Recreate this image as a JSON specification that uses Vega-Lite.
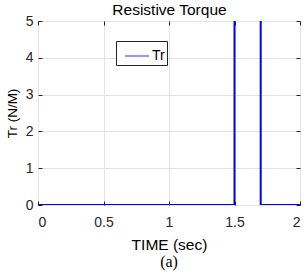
{
  "$schema": "https://vega.github.io/schema/vega-lite/v6.json",
  "width": 262,
  "height": 184,
  "autosize": {"type": "none"},
  "padding": {"left": 38, "top": 21, "right": 8, "bottom": 71},
  "background": "white",
  "title": {"text": "(a)", "orient": "bottom", "font": "Liberation Serif", "fontSize": 16, "fontWeight": "normal", "color": "black", "offset": 1},
  "config": {
    "view": {"stroke": "#262626", "strokeWidth": 1},
    "axis": {
      "labelFont": "Liberation Sans",
      "labelFontSize": 14,
      "labelColor": "#262626",
      "titleFont": "Liberation Sans",
      "titleFontSize": 15.5,
      "titleFontWeight": "normal",
      "titleColor": "black",
      "domain": false,
      "tickColor": "#262626",
      "tickSize": -4,
      "gridColor": "#e3e3e3",
      "gridOpacity": 1
    }
  },
  "data": {
    "values": [
      {"i": 0, "t": 0, "Tr": 0, "series": "Tr"},
      {"i": 1, "t": 1.5, "Tr": 0, "series": "Tr"},
      {"i": 2, "t": 1.5, "Tr": 6, "series": "Tr"},
      {"i": 3, "t": 1.7, "Tr": 6, "series": "Tr"},
      {"i": 4, "t": 1.7, "Tr": 0, "series": "Tr"},
      {"i": 5, "t": 2, "Tr": 0, "series": "Tr"}
    ]
  },
  "layer": [
    {
      "mark": {"type": "line", "clip": true, "opacity": 0},
      "encoding": {
        "x": {"field": "t", "type": "quantitative", "scale": {"domain": [0, 2], "nice": false},
              "axis": {"orient": "top", "values": [0, 0.5, 1, 1.5, 2], "labels": false, "grid": false, "title": "Resistive Torque", "titlePadding": 3}},
        "y": {"field": "Tr", "type": "quantitative", "scale": {"domain": [0, 5], "nice": false},
              "axis": {"orient": "right", "values": [0, 1, 2, 3, 4, 5], "labels": false, "grid": false, "title": null}},
        "order": {"field": "i"}
      }
    },
    {
      "mark": {"type": "line", "clip": true, "strokeWidth": 2},
      "encoding": {
        "x": {"field": "t", "type": "quantitative", "scale": {"domain": [0, 2], "nice": false},
              "axis": {"orient": "bottom", "values": [0, 0.5, 1, 1.5, 2], "format": "~g", "title": "TIME (sec)", "labelPadding": 14, "titlePadding": 8, "grid": true}},
        "y": {"field": "Tr", "type": "quantitative", "scale": {"domain": [0, 5], "nice": false},
              "axis": {"orient": "left", "values": [0, 1, 2, 3, 4, 5], "title": "Tr (N/M)", "titleFontSize": 13.5, "labelPadding": 9, "titlePadding": 6, "grid": true}},
        "color": {"field": "series", "type": "nominal", "scale": {"range": ["#0000ff"]},
                  "legend": {"title": null, "orient": "none", "legendX": 78, "legendY": 20, "strokeColor": "#262626", "fillColor": "white", "padding": 2, "symbolType": "stroke", "symbolSize": 576, "symbolStrokeWidth": 1.5, "symbolOpacity": 0.55, "symbolOffset": 6, "labelFont": "Liberation Sans", "labelFontSize": 14, "labelColor": "black", "labelOffset": 2, "labelExpr": "datum.label + '   '"}},
        "order": {"field": "i"}
      }
    }
  ]
}
